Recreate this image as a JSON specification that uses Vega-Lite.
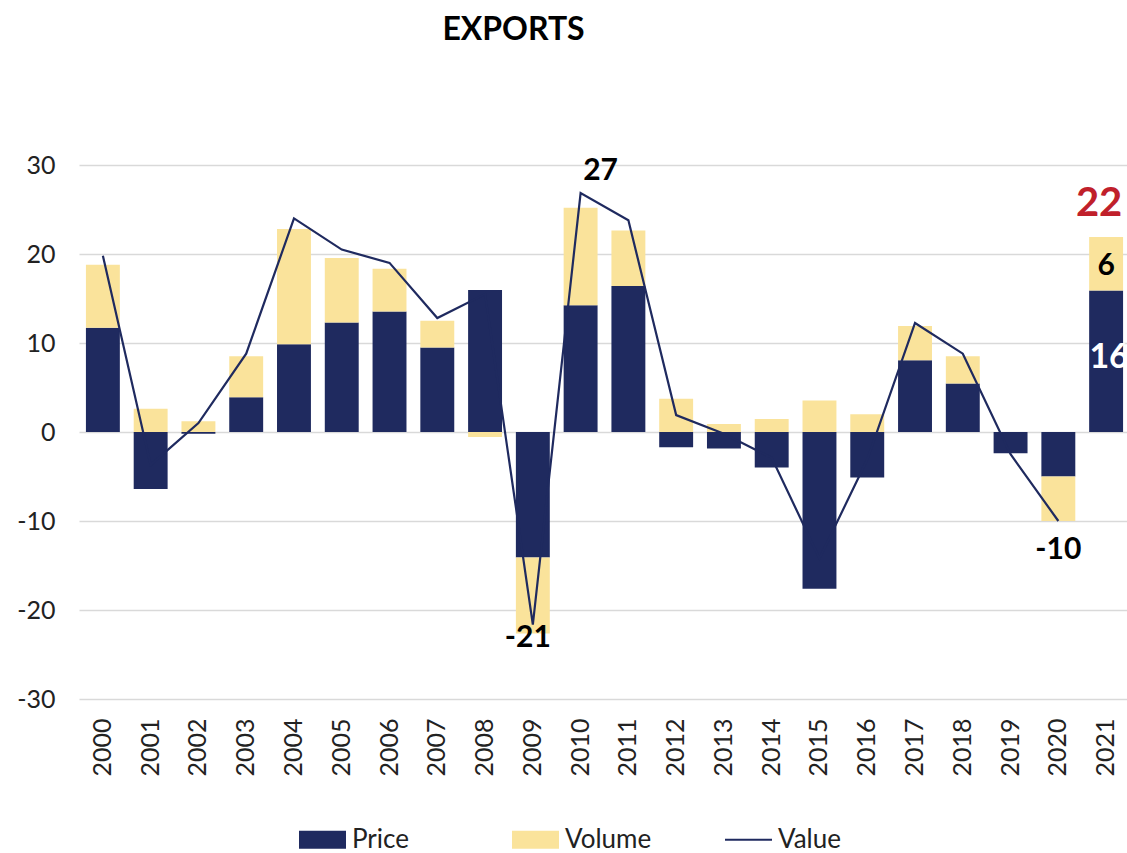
{
  "$schema": "https://vega.github.io/schema/vega-lite/v6.json",
  "width": 1051,
  "height": 534,
  "autosize": {"type": "none"},
  "padding": {"left": 79, "top": 165, "right": 0, "bottom": 154},
  "background": "white",
  "config": {"view": {"stroke": null}},
  "title": {"text": "EXPORTS", "font": "Lato", "fontSize": 32, "fontWeight": "bold", "color": "#000000", "anchor": "middle", "dx": -91, "offset": 74, "baseline": "bottom"},
  "datasets": {
    "bars": [
      {"year": "2000", "series": "Price", "value": 11.7}, {"year": "2000", "series": "Volume", "value": 7.1},
      {"year": "2001", "series": "Price", "value": -6.4}, {"year": "2001", "series": "Volume", "value": 2.6},
      {"year": "2002", "series": "Price", "value": -0.2}, {"year": "2002", "series": "Volume", "value": 1.2},
      {"year": "2003", "series": "Price", "value": 3.9}, {"year": "2003", "series": "Volume", "value": 4.6},
      {"year": "2004", "series": "Price", "value": 9.85}, {"year": "2004", "series": "Volume", "value": 12.95},
      {"year": "2005", "series": "Price", "value": 12.3}, {"year": "2005", "series": "Volume", "value": 7.25},
      {"year": "2006", "series": "Price", "value": 13.55}, {"year": "2006", "series": "Volume", "value": 4.8},
      {"year": "2007", "series": "Price", "value": 9.5}, {"year": "2007", "series": "Volume", "value": 3.0},
      {"year": "2008", "series": "Price", "value": 15.95}, {"year": "2008", "series": "Volume", "value": -0.55},
      {"year": "2009", "series": "Price", "value": -14.1}, {"year": "2009", "series": "Volume", "value": -8.55},
      {"year": "2010", "series": "Price", "value": 14.25}, {"year": "2010", "series": "Volume", "value": 10.95},
      {"year": "2011", "series": "Price", "value": 16.4}, {"year": "2011", "series": "Volume", "value": 6.25},
      {"year": "2012", "series": "Price", "value": -1.7}, {"year": "2012", "series": "Volume", "value": 3.75},
      {"year": "2013", "series": "Price", "value": -1.85}, {"year": "2013", "series": "Volume", "value": 0.9},
      {"year": "2014", "series": "Price", "value": -4.0}, {"year": "2014", "series": "Volume", "value": 1.45},
      {"year": "2015", "series": "Price", "value": -17.6}, {"year": "2015", "series": "Volume", "value": 3.55},
      {"year": "2016", "series": "Price", "value": -5.1}, {"year": "2016", "series": "Volume", "value": 2.0},
      {"year": "2017", "series": "Price", "value": 8.05}, {"year": "2017", "series": "Volume", "value": 3.85},
      {"year": "2018", "series": "Price", "value": 5.45}, {"year": "2018", "series": "Volume", "value": 3.05},
      {"year": "2019", "series": "Price", "value": -2.4}, {"year": "2019", "series": "Volume", "value": 0.0},
      {"year": "2020", "series": "Price", "value": -5.0}, {"year": "2020", "series": "Volume", "value": -5.0},
      {"year": "2021", "series": "Price", "value": 15.9}, {"year": "2021", "series": "Volume", "value": 6.0}
    ],
    "line": [
      {"year": "2000", "value": 19.8}, {"year": "2001", "value": -3.7}, {"year": "2002", "value": 1.0},
      {"year": "2003", "value": 8.8}, {"year": "2004", "value": 24.0}, {"year": "2005", "value": 20.5},
      {"year": "2006", "value": 19.0}, {"year": "2007", "value": 12.8}, {"year": "2008", "value": 15.5},
      {"year": "2009", "value": -21.65}, {"year": "2010", "value": 26.85}, {"year": "2011", "value": 23.8},
      {"year": "2012", "value": 1.9}, {"year": "2013", "value": -0.2}, {"year": "2014", "value": -2.9},
      {"year": "2015", "value": -14.2}, {"year": "2016", "value": -3.1}, {"year": "2017", "value": 12.25},
      {"year": "2018", "value": 8.8}, {"year": "2019", "value": -2.5}, {"year": "2020", "value": -10.0}
    ],
    "labels": [
      {"year": "2010", "text": "27", "at": 26.85, "kind": "peak"},
      {"year": "2009", "text": "-21", "at": -21.65, "kind": "trough"},
      {"year": "2020", "text": "-10", "at": -10.0, "kind": "end"},
      {"year": "2021", "text": "22", "at": 21.9, "kind": "total"},
      {"year": "2021", "text": "6", "at": 21.9, "kind": "volume"},
      {"year": "2021", "text": "16", "at": 15.9, "kind": "price"}
    ]
  },
  "layer": [
    {
      "data": {"name": "bars"},
      "mark": {"type": "bar"},
      "encoding": {
        "x": {"field": "year", "type": "ordinal", "title": null,
          "scale": {"paddingInner": 0.29, "paddingOuter": 0.145},
          "axis": {"labelAngle": -90, "labelFont": "Lato", "labelFontSize": 25, "labelColor": "#222222", "labelPadding": 19, "ticks": false, "domain": false, "grid": false}},
        "y": {"field": "value", "type": "quantitative", "stack": "zero", "title": null,
          "scale": {"domain": [-30, 30], "nice": false},
          "axis": {"values": [-30, -20, -10, 0, 10, 20, 30], "labelExpr": "'' + datum.value", "labelFont": "Lato", "labelFontSize": 25, "labelColor": "#222222", "labelPadding": 24, "ticks": false, "domain": false, "grid": true, "gridColor": "#D9D9D9", "gridWidth": 1.5}},
        "color": {"field": "series", "type": "nominal",
          "scale": {"domain": ["Price", "Volume", "Value"], "range": ["#1F2A5F", "#FAE39B", "#1F2A5F"]},
          "legend": {"title": null, "orient": "none", "legendX": 219, "legendY": 650, "direction": "horizontal",
            "labelFont": "Lato", "labelFontSize": 26, "labelColor": "#222222", "symbolSize": 2209, "labelOffset": 5,
            "columnPadding": 69, "gridAlign": "all",
            "encode": {"symbols": {"update": {
              "shape": {"signal": "datum.value === 'Value' ? 'M-1,0H1' : 'M-1,-0.38H1V0.38H-1Z'"},
              "fill": {"signal": "datum.value === 'Price' ? '#1F2A5F' : datum.value === 'Volume' ? '#FAE39B' : 'transparent'"},
              "stroke": {"signal": "datum.value === 'Value' ? '#1F2A5F' : 'transparent'"},
              "strokeWidth": {"value": 2},
              "opacity": {"value": 1}}}}}},
        "order": {"field": "series", "sort": "ascending"}
      }
    },
    {
      "data": {"name": "line"},
      "mark": {"type": "line", "color": "#1F2A5F", "strokeWidth": 2.2},
      "encoding": {
        "x": {"field": "year", "type": "ordinal", "title": null},
        "y": {"field": "value", "type": "quantitative", "title": null}
      }
    },
    {
      "data": {"name": "labels"},
      "encoding": {
        "x": {"field": "year", "type": "ordinal", "title": null},
        "y": {"field": "at", "type": "quantitative", "title": null},
        "text": {"field": "text"}
      },
      "layer": [
        {"transform": [{"filter": "datum.kind === 'peak'"}],
         "mark": {"type": "text", "font": "Lato", "fontWeight": "bold", "fontSize": 30, "color": "#000000", "dx": 20, "dy": -22}},
        {"transform": [{"filter": "datum.kind === 'trough'"}],
         "mark": {"type": "text", "font": "Lato", "fontWeight": "bold", "fontSize": 30, "color": "#000000", "dx": -5, "dy": 13}},
        {"transform": [{"filter": "datum.kind === 'end'"}],
         "mark": {"type": "text", "font": "Lato", "fontWeight": "bold", "fontSize": 30, "color": "#000000", "dx": 0, "dy": 29}},
        {"transform": [{"filter": "datum.kind === 'total'"}],
         "mark": {"type": "text", "font": "Lato", "fontWeight": "bold", "fontSize": 40, "color": "#C0202B", "dx": -7, "dy": -33}},
        {"transform": [{"filter": "datum.kind === 'volume'"}],
         "mark": {"type": "text", "font": "Lato", "fontWeight": "bold", "fontSize": 30, "color": "#000000", "dx": 0, "dy": 29}},
        {"transform": [{"filter": "datum.kind === 'price'"}],
         "mark": {"type": "text", "font": "Lato", "fontWeight": "bold", "fontSize": 34, "color": "#FFFFFF", "dx": 3, "dy": 68}}
      ]
    }
  ]
}
